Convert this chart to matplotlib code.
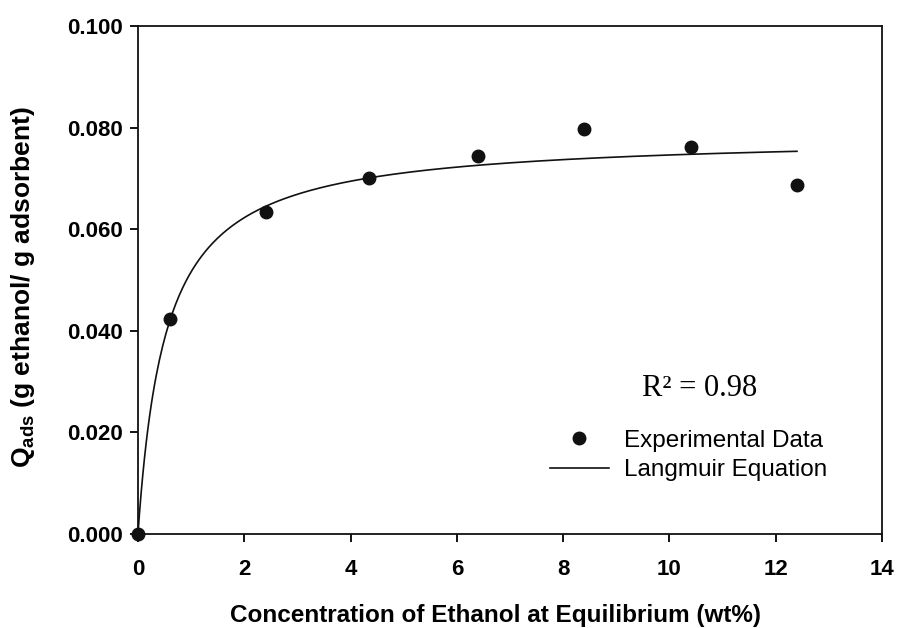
import numpy as np
import matplotlib
matplotlib.use('Agg')
import matplotlib.pyplot as plt

plt.rcParams['font.family'] = ['Liberation Sans', 'DejaVu Sans']
plt.rcParams['mathtext.fontset'] = 'custom'
plt.rcParams['mathtext.rm'] = 'Liberation Sans'
plt.rcParams['mathtext.bf'] = 'Liberation Sans:bold'

# equilibrium concentration (wt%) and adsorbed amount (g ethanol / g adsorbent)
conc = [0.0, 0.6, 2.4, 4.35, 6.4, 8.4, 10.4, 12.4]
q_ads = [0.0, 0.0423, 0.0634, 0.0701, 0.0744, 0.0797, 0.0762, 0.0687]

# Langmuir fit parameters: q = qm*K*c / (1 + K*c)
qm = 0.0785
K = 1.918
c_fit = np.linspace(0, 12.4, 400)
q_fit = qm * K * c_fit / (1 + K * c_fit)

fig = plt.figure(figsize=(8.97, 6.28), dpi=100)
ax = fig.add_axes([0.1538, 0.1497, 0.8295, 0.8089])

ax.plot(c_fit, q_fit, color='#111111', lw=1.2, label='Langmuir Equation', clip_on=False)
ax.plot(conc, q_ads, 'o', color='#111111', ms=9, label='Experimental Data', clip_on=False, zorder=3)

ax.set_xlim(0, 14)
ax.set_ylim(0, 0.1)
ax.set_xticks(range(0, 15, 2))
ax.set_yticks([0.0, 0.02, 0.04, 0.06, 0.08, 0.1])
ax.set_yticklabels(['0.000', '0.020', '0.040', '0.060', '0.080', '0.100'])

for s in ax.spines.values():
    s.set_linewidth(1.3)
    s.set_color('#111111')
ax.tick_params(direction='out', length=6, width=1.3, top=False, right=False,
               labelsize=16)
ax.tick_params(axis='x', pad=12)
ax.tick_params(axis='y', pad=5)
for lbl in ax.get_xticklabels() + ax.get_yticklabels():
    lbl.set_fontweight('bold')

ax.set_xlabel('Concentration of Ethanol at Equilibrium (wt%)', fontsize=17.5,
              fontweight='bold', va='center')
ax.xaxis.set_label_coords(0.481, -0.161)
ax.set_ylabel(r'Q$_{\mathbf{ads}}$ (g ethanol/ g adsorbent)', fontsize=19,
              fontweight='bold', va='center')
ax.yaxis.set_label_coords(-0.154, 0.486)

ax.text(0.755, 0.287, 'R² = 0.98', transform=ax.transAxes, ha='center', va='center',
        fontsize=22, family='Liberation Serif')

h, l = ax.get_legend_handles_labels()
ax.legend(h[::-1], l[::-1], loc='upper left', bbox_to_anchor=(0.554, 0.205),
          frameon=False, fontsize=17.5, handlelength=2.4, handletextpad=0.62,
          labelspacing=0.3, borderpad=0, borderaxespad=0)

fig.savefig('out.png', dpi=100)
